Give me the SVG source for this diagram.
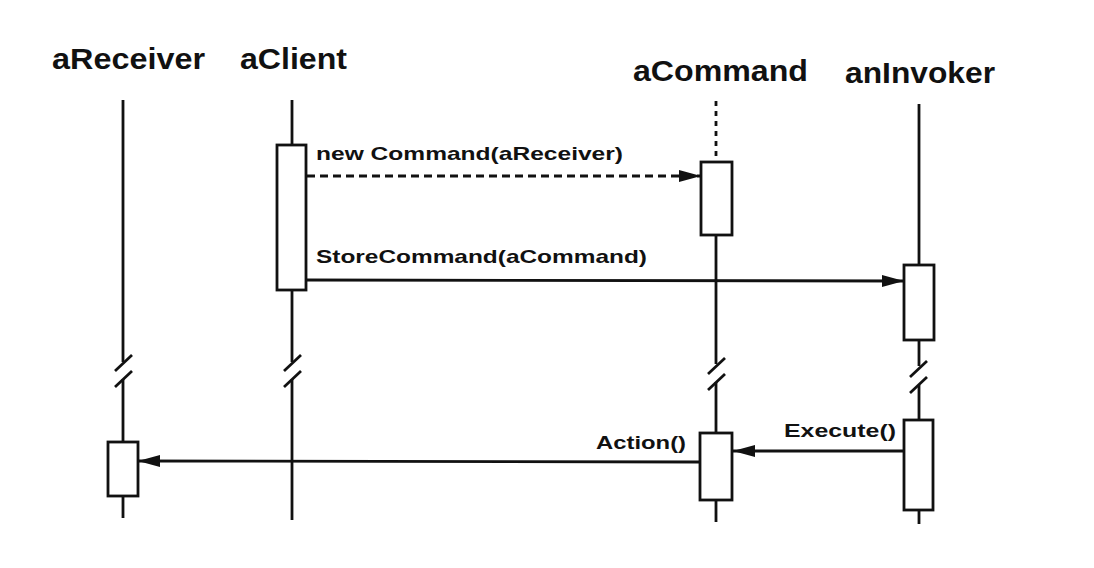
<svg xmlns="http://www.w3.org/2000/svg" width="1094" height="568" viewBox="0 0 1094 568">
<style>
.hdr{font-family:"Liberation Sans",Arial,sans-serif;font-weight:bold;font-size:29px;fill:#111}
.lbl{font-family:"Liberation Sans",Arial,sans-serif;font-weight:bold;font-size:18.5px;fill:#111}
.life{stroke:#111;stroke-width:2.8;fill:none}
.dash{stroke:#111;stroke-width:2.8;fill:none;stroke-dasharray:5 5}
.act{stroke:#111;stroke-width:2.8;fill:#fff}
.msg{stroke:#111;stroke-width:2.8;fill:none}
.msgd{stroke:#111;stroke-width:2.8;fill:none;stroke-dasharray:8 5}
</style>
<defs>
<marker id="ah" viewBox="0 0 22 14" refX="22" refY="7" markerWidth="22" markerHeight="14" markerUnits="userSpaceOnUse" orient="auto">
<path d="M0,1 L22,7 L0,13 Z" fill="#111"/>
</marker>
</defs>
<rect width="1094" height="568" fill="#fff"/>

<g id="aReceiver">
<text class="hdr" x="52" y="69" textLength="153" lengthAdjust="spacingAndGlyphs">aReceiver</text>
<line class="life" x1="123" y1="100" x2="123" y2="362"/>
<line class="life" x1="115" y1="371" x2="132" y2="355"/>
<line class="life" x1="115" y1="387" x2="132" y2="371"/>
<line class="life" x1="123" y1="379" x2="123" y2="442"/>
<rect class="act" x="108" y="442" width="30" height="54"/>
<line class="life" x1="123" y1="496" x2="123" y2="518"/>
</g>

<g id="aClient">
<text class="hdr" x="240" y="69" textLength="107" lengthAdjust="spacingAndGlyphs">aClient</text>
<line class="life" x1="292" y1="100" x2="292" y2="145"/>
<rect class="act" x="277" y="145" width="29" height="145"/>
<line class="life" x1="292" y1="290" x2="292" y2="362"/>
<line class="life" x1="284" y1="371" x2="301" y2="355"/>
<line class="life" x1="284" y1="387" x2="301" y2="371"/>
<line class="life" x1="292" y1="379" x2="292" y2="520"/>
</g>

<g id="aCommand">
<text class="hdr" x="633" y="81" textLength="175" lengthAdjust="spacingAndGlyphs">aCommand</text>
<line class="dash" x1="716" y1="101" x2="716" y2="162"/>
<rect class="act" x="701" y="162" width="31" height="73"/>
<line class="life" x1="716" y1="235" x2="716" y2="364"/>
<line class="life" x1="708" y1="374" x2="725" y2="358"/>
<line class="life" x1="708" y1="390" x2="725" y2="374"/>
<line class="life" x1="716" y1="382" x2="716" y2="433"/>
<rect class="act" x="700" y="433" width="32" height="67"/>
<line class="life" x1="716" y1="500" x2="716" y2="522"/>
</g>

<g id="anInvoker">
<text class="hdr" x="845" y="83" textLength="150" lengthAdjust="spacingAndGlyphs">anInvoker</text>
<line class="life" x1="919" y1="104" x2="919" y2="265"/>
<rect class="act" x="904" y="265" width="30" height="75"/>
<line class="life" x1="919" y1="340" x2="919" y2="366"/>
<line class="life" x1="910" y1="377" x2="927" y2="361"/>
<line class="life" x1="910" y1="393" x2="927" y2="377"/>
<line class="life" x1="919" y1="385" x2="919" y2="420"/>
<rect class="act" x="904" y="420" width="29" height="90"/>
<line class="life" x1="919" y1="510" x2="919" y2="524"/>
</g>

<g id="connectors">
<line class="msgd" x1="307" y1="176" x2="701" y2="176" marker-end="url(#ah)"/>
<text class="lbl" x="316" y="160" textLength="307" lengthAdjust="spacingAndGlyphs">new Command(aReceiver)</text>
<line class="msg" x1="306" y1="280" x2="904" y2="281" marker-end="url(#ah)"/>
<text class="lbl" x="316" y="263" textLength="331" lengthAdjust="spacingAndGlyphs">StoreCommand(aCommand)</text>
<line class="msg" x1="904" y1="451" x2="733" y2="451" marker-end="url(#ah)"/>
<text class="lbl" x="784" y="437" textLength="112" lengthAdjust="spacingAndGlyphs">Execute()</text>
<line class="msg" x1="700" y1="462" x2="138" y2="461" marker-end="url(#ah)"/>
<text class="lbl" x="596" y="449" textLength="90" lengthAdjust="spacingAndGlyphs">Action()</text>
</g>
</svg>
